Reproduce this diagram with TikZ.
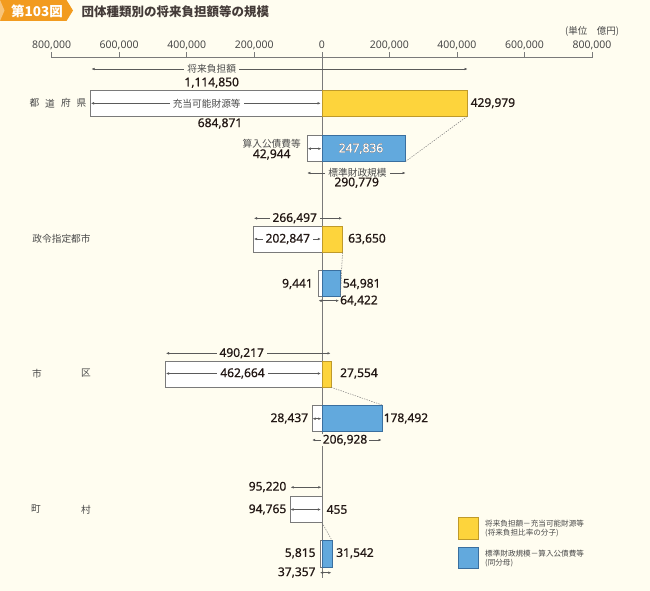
\documentclass[tikz,border=0pt]{standalone}
\usepackage{fontspec}
\setmainfont{Noto Sans CJK JP}
\newfontfamily\nums{Noto Sans}[FakeBold=0.6]
\newfontfamily\numsaxis{Noto Sans}
\newfontfamily\numsout{Noto Sans}[FakeBold=3.2]
\usetikzlibrary{arrows.meta}
\definecolor{bg}{HTML}{FFFDF0}
\definecolor{tabc}{HTML}{F29B1F}
\definecolor{tablight}{HTML}{F8C47A}
\definecolor{txt}{HTML}{231815}
\definecolor{jtxt}{HTML}{4A4A4A}
\definecolor{axc}{HTML}{7A7A7A}
\definecolor{arrc}{HTML}{5A5A5A}
\definecolor{yfill}{HTML}{FDD43C}
\definecolor{ydark}{HTML}{BF9A2A}
\definecolor{bfill}{HTML}{62A9DD}
\definecolor{bdark}{HTML}{3A6F9F}
\tikzset{
  wbar/.style={draw=axc, fill=white, line width=0.6pt},
  ybar/.style={draw=ydark, fill=yfill, line width=0.6pt},
  bbar/.style={draw=bdark, fill=bfill, line width=0.6pt},
  axisl/.style={draw=axc, line width=0.6pt},
  dashl/.style={draw=axc, line width=0.5pt, dash pattern=on 1.3pt off 1.2pt},
  dim/.style={draw=arrc, line width=0.5pt, {Latex[length=3pt,width=2.6pt]}-{Latex[length=3pt,width=2.6pt]}},
  num/.style={font=\nums\fontsize{12}{12}\selectfont, text=txt, inner sep=0pt},
  jlab/.style={font=\fontsize{9.7}{9.7}\selectfont, text=jtxt, inner sep=0pt},
  axlab/.style={font=\numsaxis\fontsize{10.5}{10.5}\selectfont, text=jtxt, inner sep=0pt},
  leg/.style={font=\fontsize{7.6}{7.6}\selectfont, text=jtxt, inner sep=0pt, anchor=west},
  gapbg/.style={fill=bg, inner xsep=3pt, inner ysep=1pt},
  gapw/.style={fill=white, inner xsep=3pt, inner ysep=1pt},
}
\begin{document}
\begin{tikzpicture}[x=1pt,y=-1pt]
\fill[bg] (0,0) rectangle (650,591);
\useasboundingbox (0,0) rectangle (650,591);
% header
\fill[tabc] (0,0) -- (66.5,0) -- (73,10.5) -- (66.5,21) -- (0,21) -- cycle;
\fill[tablight] (0,0) -- (4.5,10.5) -- (0,21) -- cycle;
\node[font=\bfseries\fontsize{13.5}{13.5}\selectfont, text=white, inner sep=0pt] (tab) at (37,11) {第103図};
\node[font=\bfseries\fontsize{12.5}{12.5}\selectfont, text=txt!85, inner sep=0pt, anchor=west] (title) at (81.5,12) {団体種類別の将来負担額等の規模};
\node[font=\fontsize{9.5}{9.5}\selectfont, text=jtxt, inner sep=0pt] (unit) at (592,31) {(単位　億円)};
% axis
\coordinate (axL) at (51.6,57.7);
\coordinate (axR) at (592,57.7);
\draw[axisl] (axL) -- (axR);
\foreach \x/\t [count=\i] in {51.6/{800,000},119.15/{600,000},186.7/{400,000},254.25/{200,000},321.8/{0},389.35/{200,000},456.9/{400,000},524.45/{600,000},592/{800,000}}{
  \node[axlab] (ax\i) at (\x,45) {\t};
  \draw[axisl] (\x,52.5) -- (\x,57.7);
}
\coordinate (z0) at (321.8,57.7);
\coordinate (z1) at (321.8,578);
\draw[axisl] (z0) -- (z1);

% ===== 都道府県 =====
\draw[wbar] (90.5,90) rectangle (321.8,116.5);
\draw[ybar] (321.8,90) rectangle (467,116.5);
\coordinate (p1y) at (467,116.5);
\draw[wbar] (307.3,135) rectangle (321.8,161.5);
\draw[bbar] (321.8,135) rectangle (405.5,161.5);
\coordinate (p1b) at (405.5,161.5);
\draw[dashl] (p1y) -- (p1b);
\coordinate (p1aL) at (91.5,69); \coordinate (p1aR) at (467.5,69);
\draw[dim] (p1aL) -- (p1aR);
\node[jlab, gapbg] (p1aT) at (211.7,69) {将来負担額};
\node[num] (p1aN) at (211.7,82.7) {1,114,850};
\coordinate (p1iL) at (91,103.3); \coordinate (p1iR) at (320.6,103.3);
\draw[dim] (p1iL) -- (p1iR);
\node[jlab, gapw] (p1iT) at (206.7,103.3) {充当可能財源等};
\node[num, anchor=west] (p1yN) at (470.5,103.3) {429,979};
\node[num] (p1wN) at (220,123.5) {684,871};
\node[jlab] (p1kT) at (271.7,144) {算入公債費等};
\node[num] (p1kN) at (271.7,154.5) {42,944};
\coordinate (p1kL) at (307.8,148.7); \coordinate (p1kR) at (321.3,148.7);
\draw[dim] (p1kL) -- (p1kR);
\node[num, font=\numsout\fontsize{12}{12}\selectfont, text=txt!80] (p1bO) at (361,148.7) {247,836};
\node[num, text=white] (p1bN) at (361,148.7) {247,836};
\coordinate (p1sL) at (307.3,173); \coordinate (p1sR) at (405.5,173);
\draw[dim] (p1sL) -- (p1sR);
\node[jlab, gapbg] (p1sT) at (357.5,173) {標準財政規模};
\node[num] (p1sN) at (356.7,182.7) {290,779};
\node[jlab] (c1a) at (34.5,103.3) {都};
\node[jlab] (c1b) at (50,103.3) {道};
\node[jlab] (c1c) at (66,103.3) {府};
\node[jlab] (c1d) at (81.5,103.3) {県};

% ===== 政令指定都市 =====
\draw[wbar] (253.3,226) rectangle (321.8,252.5);
\draw[ybar] (321.8,226) rectangle (342.5,252.5);
\coordinate (p2y) at (342.5,252.5);
\draw[wbar] (318.6,270.5) rectangle (321.8,296);
\draw[bbar] (321.8,270.5) rectangle (340.4,296);
\coordinate (p2b) at (340.4,296);
\draw[dashl] (p2y) -- (p2b);
\coordinate (p2aL) at (254,218.3); \coordinate (p2aR) at (342,218.3);
\draw[dim] (p2aL) -- (p2aR);
\node[num, gapbg] (p2aN) at (294.7,218.3) {266,497};
\coordinate (p2iL) at (254,239); \coordinate (p2iR) at (320.8,239);
\draw[dim] (p2iL) -- (p2iR);
\node[num, gapw] (p2iN) at (287.8,239) {202,847};
\node[num, anchor=west] (p2yN) at (348,239) {63,650};
\node[jlab] (c2) at (61.5,239) {政令指定都市};
\node[num, anchor=east] (p2kN) at (313,284) {9,441};
\node[num, anchor=west] (p2bN) at (342.7,284) {54,981};
\coordinate (p2sL) at (318.6,300.7); \coordinate (p2sR) at (339,300.7);
\draw[dim] (p2sL) -- (p2sR);
\node[num, anchor=west] (p2sN) at (340,300.7) {64,422};

% ===== 市区 =====
\draw[wbar] (165.6,361) rectangle (321.8,387.3);
\draw[ybar] (321.8,361) rectangle (331.1,387.3);
\coordinate (p3y) at (331.1,387.3);
\draw[wbar] (312.2,405) rectangle (321.8,431.5);
\draw[bbar] (321.8,405) rectangle (382.1,431.5);
\coordinate (p3b) at (382.1,405);
\draw[dashl] (p3y) -- (p3b);
\coordinate (p3aL) at (166,353.3); \coordinate (p3aR) at (330.5,353.3);
\draw[dim] (p3aL) -- (p3aR);
\node[num, gapbg] (p3aN) at (241.7,353.3) {490,217};
\coordinate (p3iL) at (166,373.5); \coordinate (p3iR) at (320.8,373.5);
\draw[dim] (p3iL) -- (p3iR);
\node[num, gapw] (p3iN) at (242.5,373.5) {462,664};
\node[num, anchor=west] (p3yN) at (340,373.5) {27,554};
\node[jlab] (c3a) at (37,373.5) {市};
\node[jlab] (c3b) at (86,373.5) {区};
\node[num, anchor=east] (p3kN) at (308.3,418.5) {28,437};
\coordinate (p3kL) at (312.6,418.7); \coordinate (p3kR) at (321.3,418.7);
\draw[dim] (p3kL) -- (p3kR);
\node[num, anchor=west] (p3bN) at (383.5,418.5) {178,492};
\coordinate (p3sL) at (312.2,440); \coordinate (p3sR) at (381.5,440);
\draw[dim] (p3sL) -- (p3sR);
\node[num, gapbg, inner xsep=2pt] (p3sN) at (345,440) {206,928};

% ===== 町村 =====
\draw[wbar] (289.8,496) rectangle (321.8,522.7);
\coordinate (p4y) at (322,522.7);
\draw[wbar] (319.8,540) rectangle (321.8,567.5);
\draw[bbar] (321.8,540) rectangle (331.8,567.5);
\coordinate (p4b) at (331.8,540);
\draw[dashl] (p4y) -- (p4b);
\coordinate (p4aL) at (290.7,487.3); \coordinate (p4aR) at (321.3,487.3);
\draw[dim] (p4aL) -- (p4aR);
\node[num, anchor=east] (p4aN) at (286.5,487) {95,220};
\coordinate (p4iL) at (290.5,509.5); \coordinate (p4iR) at (320.8,509.5);
\draw[dim] (p4iL) -- (p4iR);
\node[num, anchor=east] (p4iN) at (286.5,509.5) {94,765};
\node[num, anchor=west] (p4yN) at (326.5,509.5) {455};
\node[jlab] (c4a) at (36,509.5) {町};
\node[jlab] (c4b) at (86,509.5) {村};
\node[num, anchor=east] (p4kN) at (315.7,553.3) {5,815};
\node[num, anchor=west] (p4bN) at (336,553.3) {31,542};
\coordinate (p4sL) at (320,572.7); \coordinate (p4sR) at (331.3,572.7);
\draw[dim] (p4sL) -- (p4sR);
\node[num, anchor=east] (p4sN) at (315.7,572.5) {37,357};

% ===== legend =====
\draw[ybar] (458.3,517.3) rectangle (478.3,539.3);
\draw[bbar] (458.3,547.7) rectangle (478.3,568.3);
\node[leg] (l1a) at (485,523.3) {将来負担額－充当可能財源等};
\node[leg] (l1b) at (485,533.3) {(将来負担比率の分子)};
\node[leg] (l2a) at (485,553.3) {標準財政規模－算入公債費等};
\node[leg] (l2b) at (485,562.7) {(同分母)};
\end{tikzpicture}
\end{document}
